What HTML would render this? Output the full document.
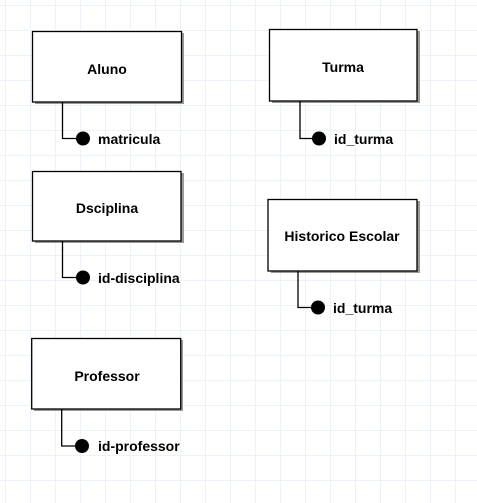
<!DOCTYPE html>
<html><head><meta charset="utf-8"><style>
html,body{margin:0;padding:0;background:#fff;}
svg{display:block;}
text{font-family:"Liberation Sans",sans-serif;font-weight:bold;font-size:14px;fill:#000;}
</style></head><body>
<svg width="477" height="503" viewBox="0 0 477 503" xmlns="http://www.w3.org/2000/svg">
<defs>
<pattern id="g" x="5" y="5" width="25" height="25" patternUnits="userSpaceOnUse">
<path d="M0.5 0V25M0 0.5H25" stroke="#edf2f8" stroke-width="1" fill="none"/>
</pattern>
</defs>
<rect width="477" height="503" fill="url(#g)"/>
<g stroke="#000" stroke-width="1.3" fill="#fff">
<rect x="35" y="33" width="149" height="71" fill="#999" stroke="none"/>
<rect x="32.5" y="31.5" width="149" height="70.5"/>
<rect x="272" y="31" width="148" height="72" fill="#999" stroke="none"/>
<rect x="269.5" y="29.5" width="147.5" height="71.5"/>
<rect x="35" y="173" width="149" height="70" fill="#999" stroke="none"/>
<rect x="32.5" y="171.5" width="148.5" height="69.5"/>
<rect x="271" y="201" width="149" height="72" fill="#999" stroke="none"/>
<rect x="268" y="199.5" width="149" height="71.5"/>
<rect x="34" y="340" width="149" height="71" fill="#999" stroke="none"/>
<rect x="31.7" y="338.5" width="149" height="70.5"/>
</g>
<g stroke="#000" stroke-width="1.3" fill="none">
<path d="M62.5 102V138.5H78"/>
<path d="M300 101V138.5H314"/>
<path d="M62.5 241V277.5H78"/>
<path d="M298 271V307.5H313"/>
<path d="M61.7 409V446H77"/>
</g>
<g fill="#000">
<circle cx="83" cy="138.5" r="7"/>
<circle cx="319" cy="138.5" r="7"/>
<circle cx="83" cy="277.5" r="7"/>
<circle cx="318" cy="307.5" r="7"/>
<circle cx="82" cy="446" r="7"/>
</g>
<text x="107" y="74" text-anchor="middle">Aluno</text>
<text x="343" y="72" text-anchor="middle">Turma</text>
<text x="107" y="213" text-anchor="middle">Dsciplina</text>
<text x="342" y="241" text-anchor="middle">Historico Escolar</text>
<text x="107" y="381" text-anchor="middle">Professor</text>
<text x="98" y="144">matricula</text>
<text x="334" y="144">id_turma</text>
<text x="98" y="283">id-disciplina</text>
<text x="333" y="313">id_turma</text>
<text x="98" y="451">id-professor</text>
</svg>
</body></html>
